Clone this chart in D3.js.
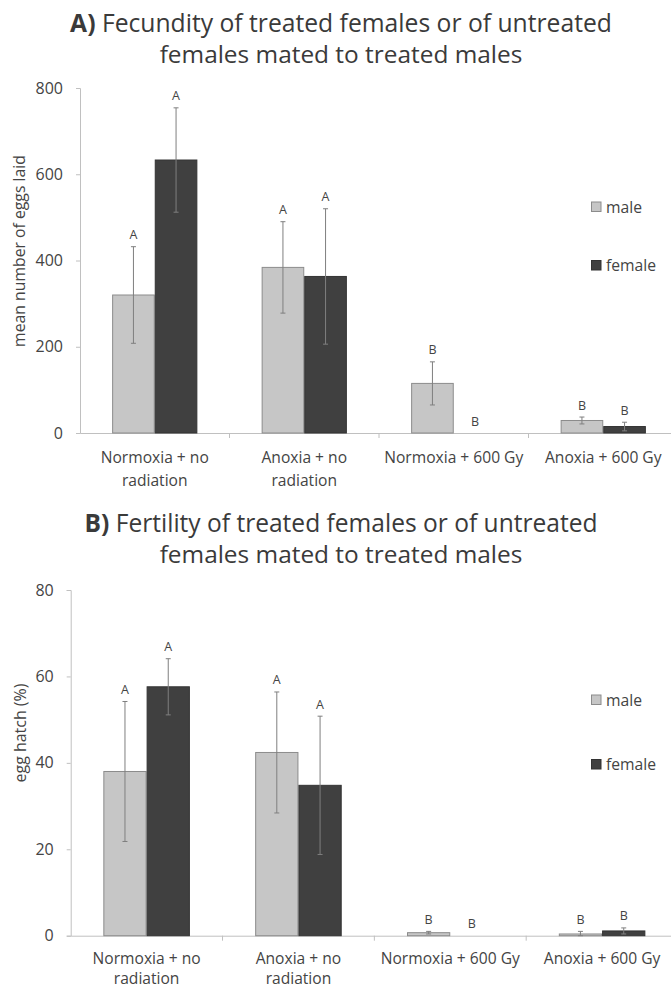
<!DOCTYPE html>
<html>
<head>
<meta charset="utf-8">
<script src="https://cdn.jsdelivr.net/npm/d3@7"></script>
<style>
  html, body { margin: 0; padding: 0; background: #fff; }
  svg { display: block; font-family: "Open Sans", "Noto Sans", sans-serif; }
</style>
</head>
<body>
<svg id="chart" width="671" height="989"></svg>
<script>
// ---------------- data ----------------
const categories = ["Normoxia + no radiation", "Anoxia + no radiation", "Normoxia + 600 Gy", "Anoxia + 600 Gy"];
const categoryLines = [["Normoxia + no", "radiation"], ["Anoxia + no", "radiation"], ["Normoxia + 600 Gy"], ["Anoxia + 600 Gy"]];
const seriesNames = ["male", "female"];

const fecundityMale      = [320, 384, 115, 29];
const fecundityMaleErr   = [112, 106, 50, 8];
const fecundityFemale    = [633, 363, 0, 15];
const fecundityFemaleErr = [121, 157, 0, 10];
const fecundityMaleLetters   = ["A", "A", "B", "B"];
const fecundityFemaleLetters = ["A", "A", "B", "B"];
const fecundityTicks = [0, 200, 400, 600, 800];

const fertilityMale      = [38.0, 42.4, 0.7, 0.4];
const fertilityMaleErr   = [16.2, 14.0, 0.3, 0.6];
const fertilityFemale    = [57.6, 34.8, 0, 1.1];
const fertilityFemaleErr = [6.5, 16.0, 0, 0.7];
const fertilityMaleLetters   = ["A", "A", "B", "B"];
const fertilityFemaleLetters = ["A", "A", "B", "B"];
const fertilityTicks = [0, 20, 40, 60, 80];

// ---------------- style ----------------
const colors = { male: "#c6c6c6", female: "#404040" };
const strokes = { male: "#8c8c8c", female: "#333333" };
const textColor = "#444444";
const axisColor = "#c0c0c0";
const errColor = "#7f7f7f";

const svg = d3.select("#chart");

function fitWidth(sel, target) {
  const w = sel.node().getComputedTextLength();
  const fs = parseFloat(sel.attr("font-size"));
  sel.attr("font-size", fs * target / w);
}

function titleBlock(letter, rest, line2, cx, y1, y2, w1, w2) {
  const t1 = svg.append("text").attr("x", cx).attr("y", y1)
    .attr("text-anchor", "middle").attr("font-size", 24).attr("fill", "#3a3a3a");
  t1.append("tspan").attr("font-weight", "bold").text(letter);
  t1.append("tspan").text(" " + rest);
  fitWidth(t1, w1);
  const t2 = svg.append("text").attr("x", cx).attr("y", y2)
    .attr("text-anchor", "middle").attr("font-size", 24).attr("fill", "#3a3a3a")
    .text(line2);
  fitWidth(t2, w2);
}

function panel(cfg) {
  const g = svg.append("g");
  const x0 = d3.scaleBand().domain(categories).range([cfg.left, cfg.right])
    .paddingInner(0.43).paddingOuter(0.215);
  const x1 = d3.scaleBand().domain(seriesNames).range([0, x0.bandwidth()]).padding(0);
  const y = d3.scaleLinear().domain([0, cfg.ticks[cfg.ticks.length - 1]]).range([cfg.bottom, cfg.top]);

  // y axis
  const yAxis = g.append("g").attr("transform", `translate(${cfg.left},0)`)
    .call(d3.axisLeft(y).tickValues(cfg.ticks).tickSize(4).tickPadding(13));
  yAxis.select(".domain").attr("stroke", axisColor);
  yAxis.selectAll(".tick line").attr("stroke", axisColor);
  yAxis.selectAll(".tick text").attr("fill", textColor).attr("font-size", 16)
    .attr("font-family", "Open Sans, sans-serif");

  // x axis
  const xAxis = g.append("g").attr("transform", `translate(0,${cfg.bottom})`)
    .call(d3.axisBottom(x0).tickSize(0).tickFormat(""));
  xAxis.select(".domain").attr("stroke", axisColor);
  const boundaries = categories.slice(1).map(c => x0(c) - x0.step() * x0.paddingInner() / 2);
  g.selectAll(".xtick").data(boundaries).join("line")
    .attr("x1", d => d).attr("x2", d => d)
    .attr("y1", cfg.bottom).attr("y2", cfg.bottom + 5)
    .attr("stroke", axisColor);

  // category labels
  categories.forEach((c, i) => {
    const t = g.append("text").attr("x", x0(c) + x0.bandwidth() / 2)
      .attr("y", cfg.bottom + cfg.labelOffset).attr("text-anchor", "middle")
      .attr("font-size", 15.6).attr("fill", textColor);
    categoryLines[i].forEach((ln, j) => {
      t.append("tspan").attr("x", x0(c) + x0.bandwidth() / 2)
        .attr("dy", j === 0 ? 0 : cfg.lineGap).text(ln);
    });
  });

  // bars
  const series = [
    { key: "male", vals: cfg.male, errs: cfg.maleErr, letters: cfg.maleLetters },
    { key: "female", vals: cfg.female, errs: cfg.femaleErr, letters: cfg.femaleLetters }
  ];
  series.forEach(s => {
    const data = categories.map((c, i) => ({ c, v: s.vals[i], e: s.errs[i], l: s.letters[i] }));
    g.selectAll(".bar-" + s.key).data(data).join("rect")
      .attr("x", d => x0(d.c) + x1(s.key) + 0.5)
      .attr("width", x1.bandwidth() - 1)
      .attr("y", d => y(d.v))
      .attr("height", d => Math.max(0, y(0) - y(d.v)))
      .attr("fill", colors[s.key])
      .attr("stroke", d => d.v > 0 ? strokes[s.key] : "none")
      .attr("stroke-width", 1);
    const cx = d => x0(d.c) + x1(s.key) + x1.bandwidth() / 2;
    const eb = data.filter(d => d.e > 0);
    g.selectAll(".err-" + s.key).data(eb).join("line")
      .attr("x1", cx).attr("x2", cx)
      .attr("y1", d => y(d.v + d.e)).attr("y2", d => y(Math.max(0, d.v - d.e)))
      .attr("stroke", errColor).attr("stroke-width", 1);
    g.selectAll(".capt-" + s.key).data(eb).join("line")
      .attr("x1", d => cx(d) - 2.5).attr("x2", d => cx(d) + 2.5)
      .attr("y1", d => y(d.v + d.e)).attr("y2", d => y(d.v + d.e))
      .attr("stroke", errColor).attr("stroke-width", 1);
    g.selectAll(".capb-" + s.key).data(eb).join("line")
      .attr("x1", d => cx(d) - 2.5).attr("x2", d => cx(d) + 2.5)
      .attr("y1", d => y(Math.max(0, d.v - d.e))).attr("y2", d => y(Math.max(0, d.v - d.e)))
      .attr("stroke", errColor).attr("stroke-width", 1);
    g.selectAll(".letter-" + s.key).data(data).join("text")
      .attr("x", cx)
      .attr("y", d => y(d.v + d.e) - 7.5)
      .attr("text-anchor", "middle").attr("font-size", 12.5).attr("fill", textColor)
      .text(d => d.l);
  });

  // y axis title
  const yt = g.append("text")
    .attr("transform", `translate(${cfg.yTitleX},${cfg.yTitleY}) rotate(-90)`)
    .attr("text-anchor", "middle").attr("dy", "0.35em")
    .attr("font-size", 15).attr("fill", textColor).text(cfg.yTitle);
  fitWidth(yt, cfg.yTitleW);

  // legend
  seriesNames.forEach((name, i) => {
    const ly = cfg.legendY[i];
    g.append("rect").attr("x", 591.5).attr("y", ly + 0.5).attr("width", 9.5).attr("height", 9.5)
      .attr("fill", colors[name]).attr("stroke", strokes[name]).attr("stroke-width", 1);
    g.append("text").attr("x", 606).attr("y", ly + 11)
      .attr("font-size", 15.7).attr("fill", textColor).text(name);
  });
}

// ---------------- panel A ----------------
titleBlock("A)", "Fecundity of treated females or of untreated", "females mated to treated males",
  341, 32, 63, 542, 363);
panel({
  left: 80, right: 678, top: 88, bottom: 433,
  ticks: fecundityTicks,
  male: fecundityMale, maleErr: fecundityMaleErr, maleLetters: fecundityMaleLetters,
  female: fecundityFemale, femaleErr: fecundityFemaleErr, femaleLetters: fecundityFemaleLetters,
  yTitle: "mean number of eggs laid", yTitleX: 19, yTitleY: 251, yTitleW: 192,
  legendY: [201.5, 260], labelOffset: 30, lineGap: 22.5
});

// ---------------- panel B ----------------
titleBlock("B)", "Fertility of treated females or of untreated", "females mated to treated males",
  341, 532, 563, 513, 363);
panel({
  left: 70.7, right: 678, top: 590, bottom: 935.7,
  ticks: fertilityTicks,
  male: fertilityMale, maleErr: fertilityMaleErr, maleLetters: fertilityMaleLetters,
  female: fertilityFemale, femaleErr: fertilityFemaleErr, femaleLetters: fertilityFemaleLetters,
  yTitle: "egg hatch (%)", yTitleX: 20.5, yTitleY: 733, yTitleW: 99,
  legendY: [694.5, 759], labelOffset: 28, lineGap: 20
});
</script>
</body>
</html>
